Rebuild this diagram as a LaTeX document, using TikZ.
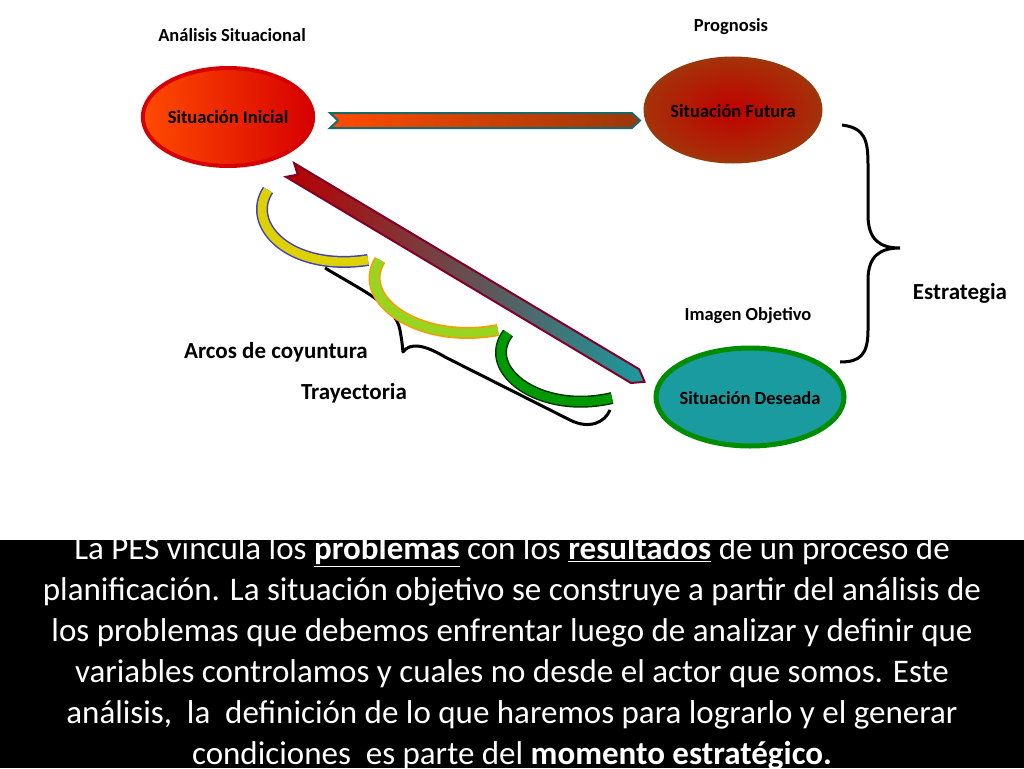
\documentclass[tikz,border=0pt]{standalone}
\usepackage{fontspec}
\setmainfont{Carlito}
\usetikzlibrary{shapes.geometric}
\begin{document}
\begin{tikzpicture}[x=1pt,y=-1pt,
  lbl/.style={font=\fontsize{18.5}{22}\selectfont\bfseries, inner sep=0},
  big/.style={font=\fontsize{23}{26}\selectfont\bfseries, inner sep=0},
  arcline/.style={line width=#1, line cap=butt}]
\useasboundingbox (0,0) rectangle (1024,768);
\definecolor{orng}{RGB}{255,75,0}
\definecolor{rd}{RGB}{215,0,0}
\definecolor{brn}{RGB}{155,55,10}
\definecolor{tealc}{RGB}{25,105,105}
\definecolor{maroon}{RGB}{130,0,40}
\definecolor{tealf}{RGB}{25,155,160}
\definecolor{grn}{RGB}{0,140,0}
% horizontal arrow
\path[draw=tealc, line width=2, left color=orng, right color=brn]
  (330,113)--(632,113)--(640,120.5)--(632,128)--(330,128)--(338,120.5)--cycle;
% ellipses
\node[ellipse, draw=rd, line width=4, minimum width=168, minimum height=98,
  left color=orng, right color=rd, lbl] (ini) at (228,117) {Situación Inicial};
\node[ellipse, draw=brn, line width=3, minimum width=176, minimum height=104,
  inner color=rd!90!black, outer color=brn!90!red, lbl] (fut) at (733,110) {};
\node[lbl] (futt) at (733,111) {Situación Futura};
\node[ellipse, draw=grn, line width=5, minimum width=188, minimum height=98,
  fill=tealf, lbl] (des) at (750,397) {};
\node[lbl] (dest) at (750,398) {Situación Deseada};
% diagonal arrow
\begin{scope}[shift={(290,170)}, rotate=-30.85]
\path[draw=maroon, line width=2, left color=rd!85!black, right color=tealf]
  (0,-8)--(402,-8)--(413,0)--(402,8)--(0,8)--(9,0)--cycle;
\end{scope}
% labels
\node[lbl] (as) at (232,35) {Análisis Situacional};
\node[lbl] (pr) at (731,27) {Prognosis};
\node[lbl] (io) at (748,316) {Imagen Objetivo};
\node[big] (es) at (960,293) {Estrategia};
\node[big] (ac) at (276,352) {Arcos de coyuntura};
\node[big] (tr) at (354,393) {Trayectoria};
% big brace
\draw[line width=3] (842,125) .. controls (865,128) and (868,140) .. (868,165) -- (868,215)
  .. controls (868,240) and (880,248) .. (900,248) .. controls (880,248) and (868,256) .. (868,280)
  -- (868,330) .. controls (868,355) and (860,362) .. (840,362);
% black trajectory brace
\draw[line width=3, line join=round] (325,268) .. controls (365,292) and (395,305) .. (400,330)
  .. controls (402,342) .. (403,352) .. controls (410,342) and (425,345) .. (445,357)
  -- (570,420) .. controls (590,430) and (605,422) .. (610,410);
% arcs
\draw[arcline=12, draw=blue!50!gray] (268,190) .. controls (245,225) and (290,272) .. (368,260);
\draw[arcline=9, draw=yellow!70!olive] (268,190) .. controls (245,225) and (290,272) .. (368,260);
\draw[arcline=12, draw=orange!80!yellow] (380,260) .. controls (355,300) and (420,345) .. (498,330);
\draw[arcline=9, draw=yellow!60!green] (380,260) .. controls (355,300) and (420,345) .. (498,330);
\draw[arcline=12, draw=black!80!green] (508,333) .. controls (480,370) and (540,415) .. (612,398);
\draw[arcline=9, draw=green!60!black] (508,333) .. controls (480,370) and (540,415) .. (612,398);
% bottom band
\fill[black] (0,540) rectangle (1024,768);
\node[text=white, align=center, inner sep=0, anchor=north,
  font=\fontsize{33}{41}\selectfont] (txt) at (512,536) {%
La PES vincula los \underline{\textbf{problemas}} con los \underline{\textbf{resultados}} de un proceso de\\
planificación. La situación objetivo se construye a partir del análisis de\\
los problemas que debemos enfrentar luego de analizar y definir que\\
variables controlamos y cuales no desde el actor que somos. Este\\
análisis,~ la~ definición de lo que haremos para lograrlo y el generar\\
condiciones~ es parte del \underline{\textbf{momento estratégico.}}};
\end{tikzpicture}
\end{document}
